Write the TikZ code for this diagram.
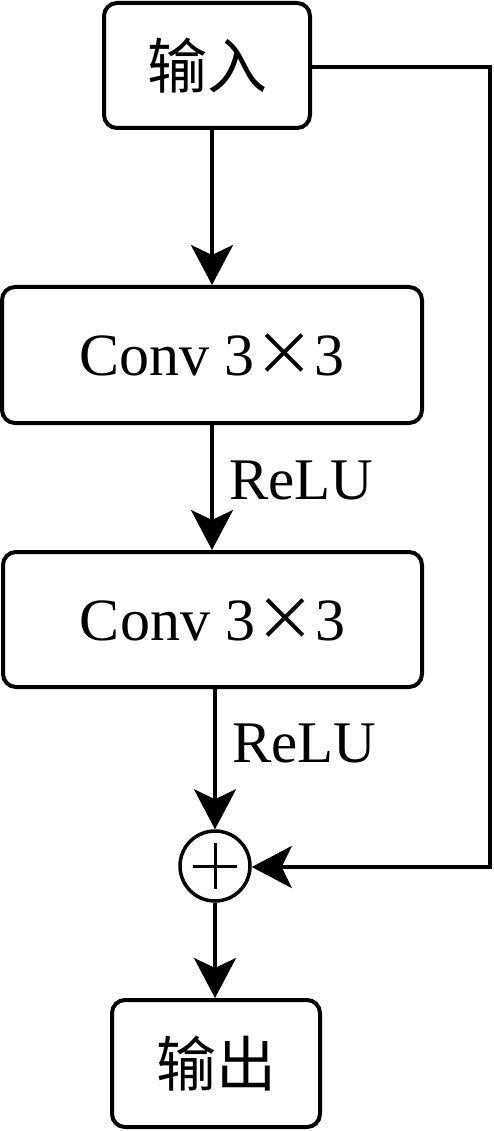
\documentclass[tikz,border=0pt]{standalone}
\usepackage{fontspec}
\setmainfont{Liberation Serif}
\newfontfamily\cjk{Noto Sans CJK SC}
\usetikzlibrary{arrows.meta}
\begin{document}
\begin{tikzpicture}[x=1pt,y=-1pt,
  box/.style={draw,line width=4pt,rounded corners=13pt,inner sep=0pt,font=\fontsize{60pt}{62pt}\selectfont},
  arr/.style={line width=3.5pt,-{Stealth[length=40pt,width=42pt,inset=10pt]}},
  lbl/.style={inner sep=0pt,font=\fontsize{59pt}{61pt}\selectfont}]
\useasboundingbox (0,0) rectangle (493,1131);
\node[box,minimum width=206pt,minimum height=125pt] (in) at (207,65.5) {\cjk 输入};
\node[box,minimum width=420pt,minimum height=136pt] (c1) at (212,355) {Conv 3{\cjk ×}3};
\node[box,minimum width=419pt,minimum height=135pt] (c2) at (212.5,619.5) {Conv 3{\cjk ×}3};
\node[draw,circle,line width=3.5pt,minimum size=70pt,inner sep=0pt] (add) at (215,866) {};
\draw[line width=3pt] ([xshift=-22pt]add.center) -- ([xshift=22pt]add.center)
  ([yshift=-23pt]add.center) -- ([yshift=23pt]add.center);
\node[box,minimum width=208pt,minimum height=127pt] (out) at (216,1063.5) {\cjk 输出};
\node[lbl,anchor=base west] (r1) at (229,499) {ReLU};
\node[lbl,anchor=base west] (r2) at (232,762) {ReLU};
\coordinate (k1) at (490,67);
\coordinate (k2) at (490,867);
\draw[arr] (in.south -| c1.north) -- (c1.north);
\draw[arr] (c1.south) -- (c2.north -| c1.south);
\draw[arr] (c2.south -| add.north) -- (add.north);
\draw[arr] (add.south) -- (out.north -| add.south);
\draw[arr] (in.east |- k1) -- (k1) -- (k2) -- (add.east |- k2);
\end{tikzpicture}
\end{document}
